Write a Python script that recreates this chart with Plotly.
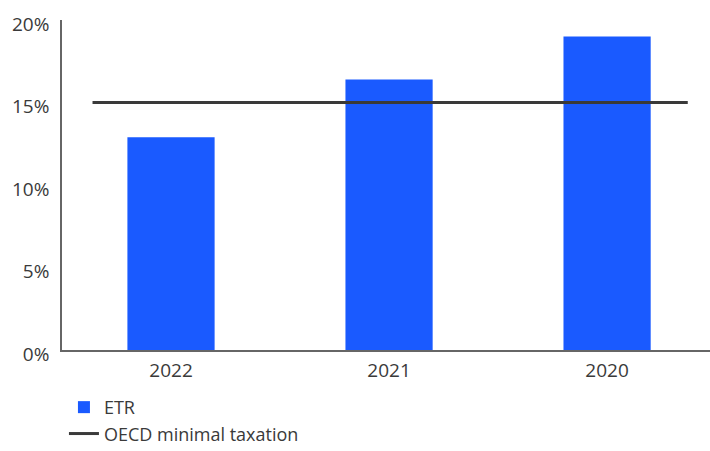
import plotly.graph_objects as go

categories = ["2022", "2021", "2020"]
etr_values = [12.9, 16.4, 19.0]
oecd_rate = 15.0
y_ticks = [0, 5, 10, 15, 20]
y_tick_labels = ["0%", "5%", "10%", "15%", "20%"]

x_pos = list(range(len(categories)))

fig = go.Figure()
fig.add_trace(go.Bar(
    x=x_pos, y=etr_values, name="ETR", width=0.4,
    marker=dict(color="#1A5AFF", line=dict(width=0)),
))
fig.add_trace(go.Scatter(
    x=[-0.36, len(categories) - 1 + 0.37], y=[oecd_rate, oecd_rate],
    mode="lines", name="OECD minimal taxation",
    line=dict(color="#3a3a3a", width=3),
))

fig.update_layout(
    width=710, height=451,
    margin=dict(l=62, r=0, t=20, b=101, autoexpand=False),
    paper_bgcolor="white", plot_bgcolor="white",
    font=dict(family="Open Sans, Noto Sans, sans-serif", size=19, color="#3a3a3a"),
    showlegend=True,
    legend=dict(x=0.003, xanchor="left", y=-0.118, yanchor="top",
                orientation="v", font=dict(size=18, color="#3a3a3a"),
                itemwidth=30, tracegroupgap=0),
    xaxis=dict(
        range=[-0.5, 2.472], tickmode="array", tickvals=x_pos, ticktext=categories,
        showgrid=False, zeroline=False, showline=True, linecolor="#666666", linewidth=1.5,
        ticks="", ticklabelstandoff=2, tickfont=dict(size=19, color="#3a3a3a"),
    ),
    yaxis=dict(
        range=[0, 20], tickmode="array", tickvals=y_ticks, ticktext=y_tick_labels,
        showgrid=False, zeroline=False, showline=True, linecolor="#666666", linewidth=1.5,
        ticks="", ticklabelstandoff=7, ticklabelshift=4, ticklabeloverflow="allow",
        tickfont=dict(size=19, color="#3a3a3a"),
    ),
)

fig.write_html("out.html", config={"displayModeBar": False},
               post_script="document.body.style.margin='0';")
